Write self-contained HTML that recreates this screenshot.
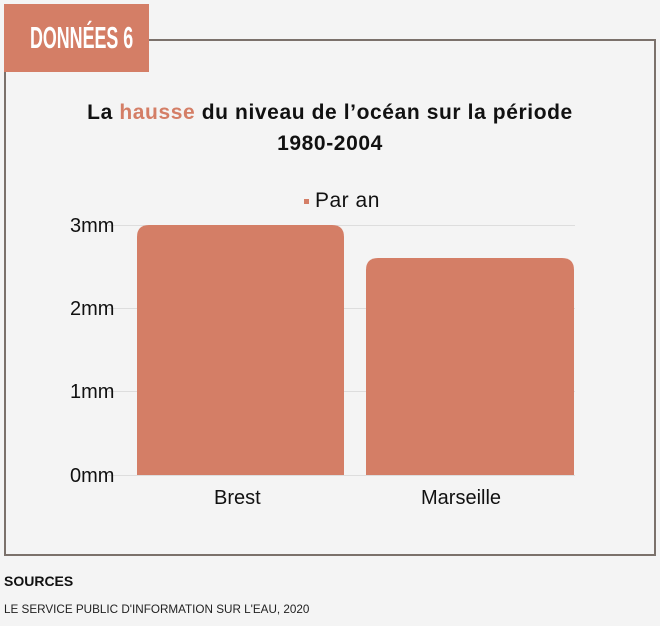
<!DOCTYPE html>
<html><head><meta charset="utf-8"><style>
body{margin:0;width:660px;height:626px;background:#f4f4f4;font-family:"Liberation Sans",sans-serif;position:relative;overflow:hidden}
.box{position:absolute;left:4px;top:39px;width:648px;height:513px;border:2px solid #7b716b}
.badge{position:absolute;left:4px;top:4px;width:145px;height:68px;background:#d47e66;overflow:hidden}
.badge span{position:absolute;left:26px;top:0;line-height:68px;color:#fff;font-weight:bold;font-size:31px;white-space:nowrap;transform:scaleX(0.576);transform-origin:left center}
.t{position:absolute;left:0;width:660px;text-align:center;font-size:21px;font-weight:bold;color:#111;letter-spacing:0.6px}
.a{position:absolute;font-size:20px;color:#111}
</style></head><body>
<div class="box"></div>
<div class="badge"><span>DONNÉES 6</span></div>
<div class="t" style="top:101px">La <span style="color:#d47e66">hausse</span> du niveau de l’océan sur la période</div>
<div class="t" style="top:132px">1980-2004</div>
<div style="position:absolute;left:304px;top:199px;width:5px;height:5px;background:#d47e66"></div>
<div class="a" style="left:315px;top:189px;font-size:21px;letter-spacing:0.5px">Par an</div>
<svg style="position:absolute;left:0;top:0" width="660" height="626">
<g stroke="#ddd" stroke-width="1"><line x1="108" x2="575" y1="225.5" y2="225.5"/><line x1="108" x2="575" y1="308.5" y2="308.5"/><line x1="108" x2="575" y1="391.5" y2="391.5"/><line x1="108" x2="575" y1="475.5" y2="475.5"/></g>
<path d="M137 475V237Q137 225 149 225H332Q344 225 344 237V475Z" fill="#d47e66"/>
<path d="M366 475V270Q366 258 378 258H562Q574 258 574 270V475Z" fill="#d47e66"/>
</svg>
<div class="a" style="left:70px;top:215px">3mm</div>
<div class="a" style="left:70px;top:298px">2mm</div>
<div class="a" style="left:70px;top:381px">1mm</div>
<div class="a" style="left:70px;top:465px">0mm</div>
<div class="a" style="left:214px;top:487px">Brest</div>
<div class="a" style="left:421px;top:487px">Marseille</div>
<div style="position:absolute;left:4px;top:573px;font-size:14px;font-weight:bold;color:#111">SOURCES</div>
<div style="position:absolute;left:4px;top:603px;font-size:11.7px;color:#222">LE SERVICE PUBLIC D'INFORMATION SUR L'EAU, 2020</div>
</body></html>
